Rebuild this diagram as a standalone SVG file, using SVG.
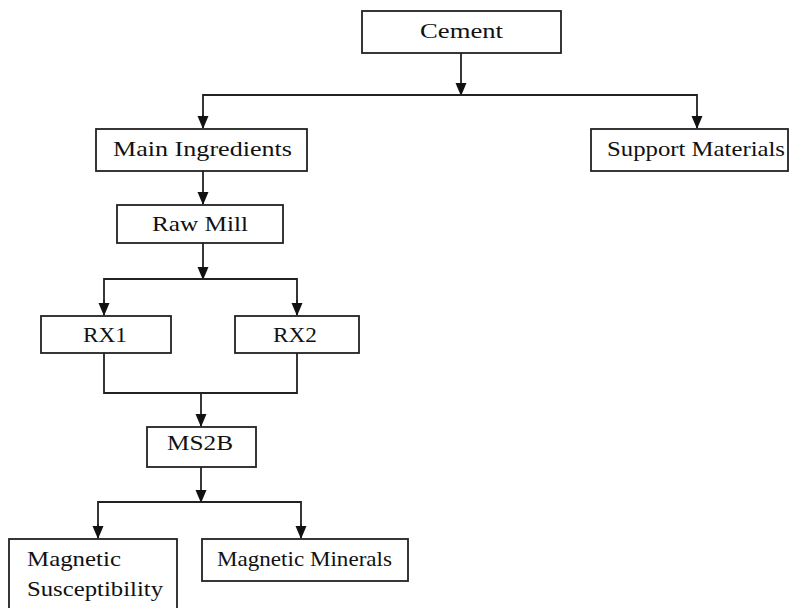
<svg xmlns="http://www.w3.org/2000/svg" width="790" height="608" viewBox="0 0 790 608">
<style>
.box{fill:#fff;stroke:#222;stroke-width:1.8}
.t{font-family:"Liberation Serif","Times New Roman",serif;font-size:22px;fill:#111}
.c{text-anchor:middle}
.ln{fill:none;stroke:#222;stroke-width:1.8}
</style>
<defs>
<marker id="ah" markerWidth="13" markerHeight="13" viewBox="0 0 13 13" refX="12" refY="6.5" orient="auto" markerUnits="userSpaceOnUse">
<path d="M0,1 L13,6.5 L0,12 Z" fill="#111"/>
</marker>
</defs>
<rect width="790" height="608" fill="#fff"/>
<g id="connectors">
<line class="ln" x1="461" y1="53" x2="461" y2="95" marker-end="url(#ah)"/>
<polyline class="ln" points="203,127 203,95 697,95 697,127"/>
<line class="ln" x1="203" y1="115" x2="203" y2="128" marker-end="url(#ah)"/>
<line class="ln" x1="697" y1="115" x2="697" y2="128" marker-end="url(#ah)"/>
<line class="ln" x1="203" y1="171" x2="203" y2="204" marker-end="url(#ah)"/>
<line class="ln" x1="203" y1="243" x2="203" y2="279" marker-end="url(#ah)"/>
<polyline class="ln" points="104,314 104,279 297,279 297,314"/>
<line class="ln" x1="104" y1="300" x2="104" y2="315" marker-end="url(#ah)"/>
<line class="ln" x1="297" y1="300" x2="297" y2="315" marker-end="url(#ah)"/>
<polyline class="ln" points="104,353 104,393 297,393 297,353"/>
<line class="ln" x1="201" y1="393" x2="201" y2="426" marker-end="url(#ah)"/>
<line class="ln" x1="201" y1="467" x2="201" y2="502" marker-end="url(#ah)"/>
<polyline class="ln" points="98,537 98,502 301,502 301,537"/>
<line class="ln" x1="98" y1="524" x2="98" y2="538" marker-end="url(#ah)"/>
<line class="ln" x1="301" y1="524" x2="301" y2="538" marker-end="url(#ah)"/>
</g>
<g id="cement">
<rect class="box" x="362" y="11" width="199" height="42"/>
<text class="t c" x="461.5" y="38" textLength="83" lengthAdjust="spacingAndGlyphs">Cement</text>
</g>
<g id="main-ingredients">
<rect class="box" x="96" y="129" width="211" height="42"/>
<text class="t" x="113" y="156" textLength="179" lengthAdjust="spacingAndGlyphs">Main Ingredients</text>
</g>
<g id="support-materials">
<rect class="box" x="591" y="129" width="197" height="42"/>
<text class="t" x="607" y="156" textLength="178" lengthAdjust="spacingAndGlyphs">Support Materials</text>
</g>
<g id="raw-mill">
<rect class="box" x="117" y="205" width="166" height="38"/>
<text class="t" x="152" y="231" textLength="96" lengthAdjust="spacingAndGlyphs">Raw Mill</text>
</g>
<g id="rx1">
<rect class="box" x="41" y="316" width="130" height="37"/>
<text class="t" x="83" y="342" textLength="44" lengthAdjust="spacingAndGlyphs">RX1</text>
</g>
<g id="rx2">
<rect class="box" x="235" y="316" width="124" height="37"/>
<text class="t" x="273" y="342" textLength="44" lengthAdjust="spacingAndGlyphs">RX2</text>
</g>
<g id="ms2b">
<rect class="box" x="147" y="427" width="109" height="40"/>
<text class="t" x="167" y="450" textLength="66" lengthAdjust="spacingAndGlyphs">MS2B</text>
</g>
<g id="magnetic-susceptibility">
<rect class="box" x="9" y="539" width="168" height="80"/>
<text class="t" x="27" y="566" textLength="94" lengthAdjust="spacingAndGlyphs">Magnetic</text>
<text class="t" x="27" y="596" textLength="136" lengthAdjust="spacingAndGlyphs">Susceptibility</text>
</g>
<g id="magnetic-minerals">
<rect class="box" x="202" y="539" width="206" height="42"/>
<text class="t" x="217" y="566" textLength="175" lengthAdjust="spacingAndGlyphs">Magnetic Minerals</text>
</g>
</svg>
